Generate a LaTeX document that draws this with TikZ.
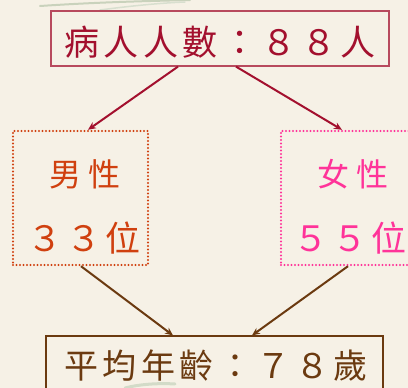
\documentclass[tikz,border=0pt]{standalone}
\usepackage{fontspec}
\usetikzlibrary{arrows.meta}
\newfontfamily\cjktop[LetterSpace=13]{Noto Sans CJK TC}
\newfontfamily\cjkmid[LetterSpace=22]{Noto Sans CJK TC}
\newfontfamily\cjknum[LetterSpace=12]{Noto Sans CJK TC}
\definecolor{bgcream}{HTML}{F6F1E6}
\definecolor{topred}{HTML}{A3102E}
\definecolor{topborder}{HTML}{B84A5E}
\definecolor{malecol}{HTML}{D0400F}
\definecolor{femcol}{HTML}{FF3399}
\definecolor{browncol}{HTML}{6B3A10}
\definecolor{leaf}{HTML}{9DAE86}
\tikzset{
  titlebox/.style={draw=topborder, line width=1.2pt, minimum width=338pt, minimum height=55pt, inner sep=0pt},
  agebox/.style={draw=browncol, line width=1.2pt, minimum width=337pt, minimum height=60pt, inner sep=0pt},
  dotbox/.style={line width=2.4pt, dash pattern=on 0pt off 3.5pt, line cap=round, minimum width=135pt, minimum height=134pt, inner sep=0pt},
  lbl/.style={inner sep=0pt, anchor=center},
  redarrow/.style={draw=topred, line width=2pt, -{Stealth[length=8pt,width=7pt]}},
  brownarrow/.style={draw=browncol, line width=2pt, -{Stealth[length=8pt,width=7pt]}}
}
\begin{document}
\begin{tikzpicture}[x=1pt,y=-1pt]
\fill[bgcream] (0,0) rectangle (408,388);
\useasboundingbox (0,0) rectangle (408,388);
% faint leaves
\draw[leaf!55, line width=2pt, line cap=round] (40,6) .. controls (100,2) and (150,1) .. (190,0);
\draw[leaf!40, line width=1.5pt, line cap=round] (100,10) .. controls (130,6) and (160,3) .. (185,2);
\draw[leaf!45, line width=3pt, line cap=round] (125,388) .. controls (140,384) and (160,383) .. (175,384);
% nodes
\node[titlebox] (top) at (220,38.5) {};
\node[lbl, text=topred, font=\cjktop\fontsize{35pt}{35pt}\selectfont] (toptext) at (220,42) {病人人數：８８人};
\node[dotbox, draw=malecol] (male) at (80.5,198) {};
\node[lbl, text=malecol, font=\cjkmid\fontsize{32pt}{32pt}\selectfont] (maletext) at (85,174) {男性};
\node[lbl, text=malecol, font=\cjknum\fontsize{35pt}{35pt}\selectfont] (malenum) at (84,238) {３３位};
\node[dotbox, draw=femcol] (female) at (348.5,198) {};
\node[lbl, text=femcol, font=\cjkmid\fontsize{32pt}{32pt}\selectfont] (femtext) at (353,174) {女性};
\node[lbl, text=femcol, font=\cjknum\fontsize{35pt}{35pt}\selectfont] (femnum) at (350,238) {５５位};
\node[agebox] (age) at (214.5,366) {};
\node[lbl, text=browncol, font=\cjktop\fontsize{34pt}{34pt}\selectfont] (agetext) at (216,366) {平均年齡：７８歲};
% connectors
\draw[redarrow] ([xshift=-42pt]top.south) -- ([xshift=7.5pt]male.north);
\draw[redarrow] ([xshift=16pt]top.south) -- ([xshift=-6.5pt]female.north);
\draw[brownarrow] ([xshift=0.5pt]male.south) -- ([xshift=-41.5pt]age.north);
\draw[brownarrow] ([xshift=-0.5pt]female.south) -- ([xshift=37.5pt]age.north);
\end{tikzpicture}
\end{document}
